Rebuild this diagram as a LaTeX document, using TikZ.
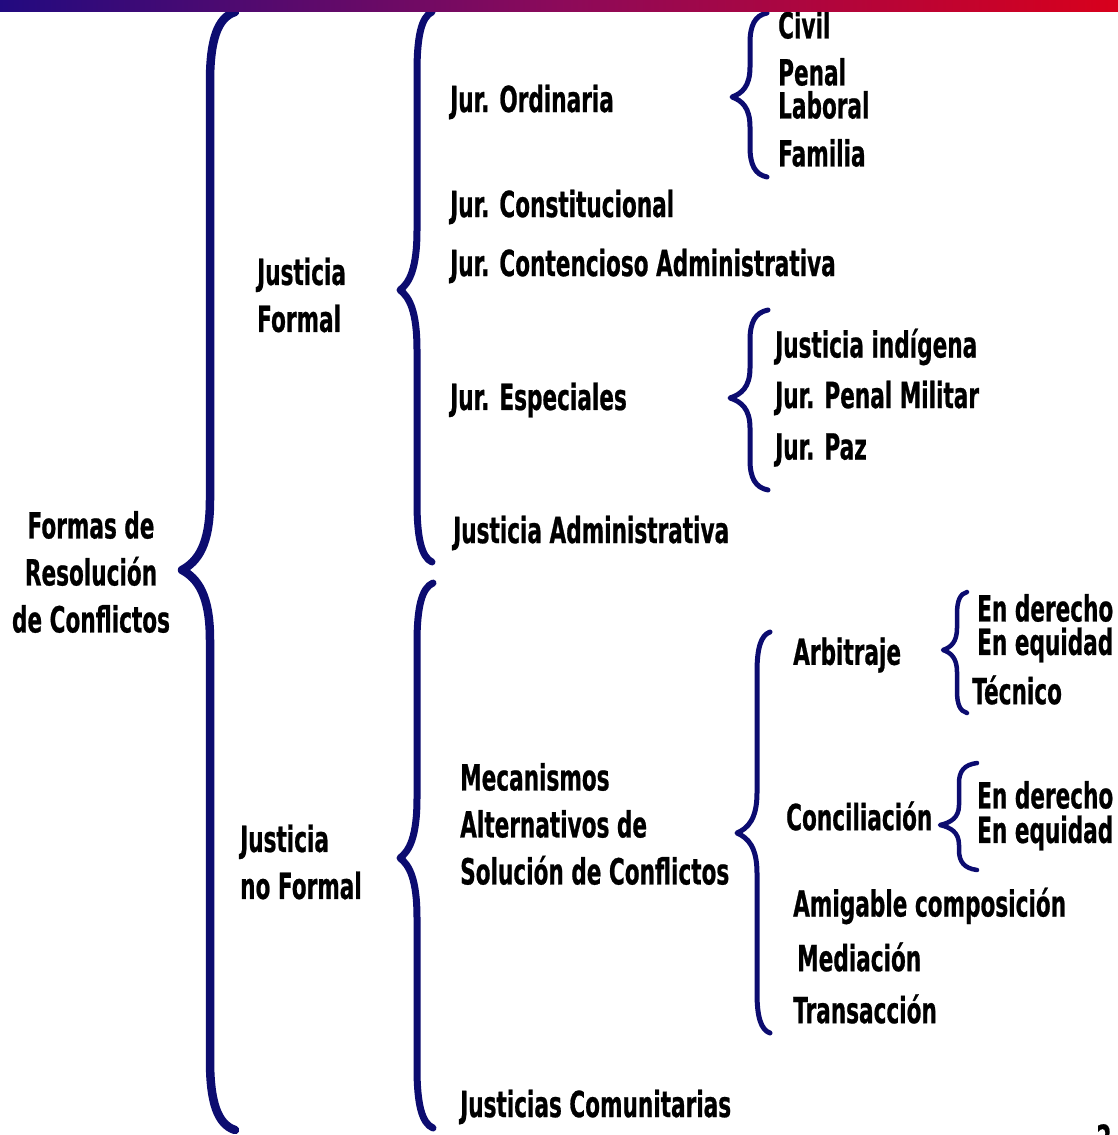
\documentclass[tikz,border=0pt]{standalone}
\usepackage{fontspec}
\newfontfamily\tf{DejaVu Sans}[FakeStretch=0.60, FakeBold=0.6]
\definecolor{navy}{RGB}{12,12,112}
\definecolor{barL}{RGB}{34,10,128}
\definecolor{barM}{RGB}{140,10,90}
\definecolor{barR}{RGB}{216,0,28}
\newcommand\drawbrace[8]{% #1 width, #2 xe, #3 yt, #4 xv, #5 xtip, #6 ytip, #7 yb, #8 r
  \draw[bracestyle, line width=#1] (#2,#3) .. controls ({#4+0.3*(#2-#4)},{#3+0.08*#8}) and (#4,{#3+0.4*#8}) .. (#4,{#3+#8})
    -- (#4,{#6-#8}) .. controls (#4,{#6-0.35*#8}) and ({#4-0.45*(#4-#5)},{#6-0.12*#8}) .. (#5,#6)
    .. controls ({#4-0.45*(#4-#5)},{#6+0.12*#8}) and (#4,{#6+0.35*#8}) .. (#4,{#6+#8})
    -- (#4,{#7-#8}) .. controls (#4,{#7-0.4*#8}) and ({#4+0.3*(#2-#4)},{#7-0.08*#8}) .. (#2,#7);}
\tikzset{
  bracestyle/.style={draw=navy, line cap=round, line join=round},
  lbl/.style={anchor=west, inner sep=0pt, font=\tf\bfseries\fontsize{36}{47}\selectfont, text=black},
  lblc/.style={lbl, anchor=center, align=center},
  lblm/.style={lbl, align=left}
}
\begin{document}
\begin{tikzpicture}[x=1pt,y=-1pt]
\useasboundingbox (0,0) rectangle (1118,1135);
\fill[white] (0,0) rectangle (1118,1135);
% braces
\drawbrace{8.5pt}{235}{12}{210}{182}{570}{1130}{70}
\drawbrace{7pt}{432}{12}{417}{400}{290}{562}{60}
\drawbrace{7pt}{433}{583}{417}{400}{858}{1128}{60}
\drawbrace{5pt}{767}{13}{750}{732}{97}{177}{30}
\drawbrace{5pt}{768}{310}{750}{730}{398}{490}{30}
\drawbrace{5pt}{770}{632}{757}{737}{833}{1033}{40}
\drawbrace{4.5pt}{967}{592}{957}{943}{650}{713}{22}
\drawbrace{4.5pt}{977}{763}{959}{940}{825}{870}{20}
% texts
\node[lblc] (root) at (91,572) {Formas de\\Resolución\\de Conflictos};
\node[lblm] (jf) at (257,295) {Justicia\\Formal};
\node[lblm] (jnf) at (240,862) {Justicia\\no Formal};
\node[lbl] (jo) at (450,102) {Jur. Ordinaria};
\node[lbl] (jc) at (450,207) {Jur. Constitucional};
\node[lbl] (jca) at (450,266) {Jur. Contencioso Administrativa};
\node[lbl] (je) at (450,400) {Jur. Especiales};
\node[lbl] (ja) at (453,533) {Justicia Administrativa};
\node[lbl] (civ) at (778,25) {Civil};
\node[lbl] (pen) at (778,72) {Penal};
\node[lbl] (lab) at (778,105) {Laboral};
\node[lbl] (fam) at (778,153) {Familia};
\node[lbl] (jin) at (775,347) {Justicia indígena};
\node[lbl] (jpm) at (775,398) {Jur. Penal Militar};
\node[lbl] (jpz) at (775,450) {Jur. Paz};
\node[lblm] (masc) at (460,824) {Mecanismos\\Alternativos de\\Solución de Conflictos};
\node[lbl] (arb) at (793,655) {Arbitraje};
\node[lbl] (ad) at (977,608) {En derecho};
\node[lbl] (ae) at (977,645) {En equidad};
\node[lbl] (at) at (972,690) {Técnico};
\node[lbl] (con) at (786,816) {Conciliación};
\node[lbl] (cd) at (977,795) {En derecho};
\node[lbl] (ce) at (977,833) {En equidad};
\node[lbl] (ami) at (793,906) {Amigable composición};
\node[lbl] (med) at (797,957) {Mediación};
\node[lbl] (tra) at (793,1009) {Transacción};
\node[lbl] (jcom) at (460,1107) {Justicias Comunitarias};
\node[lbl, anchor=north] (pg) at (1104,1124) {2};
% top bar
\shade[left color=barL, right color=barR, middle color=barM] (0,0) rectangle (1118,11);
\end{tikzpicture}
\end{document}
